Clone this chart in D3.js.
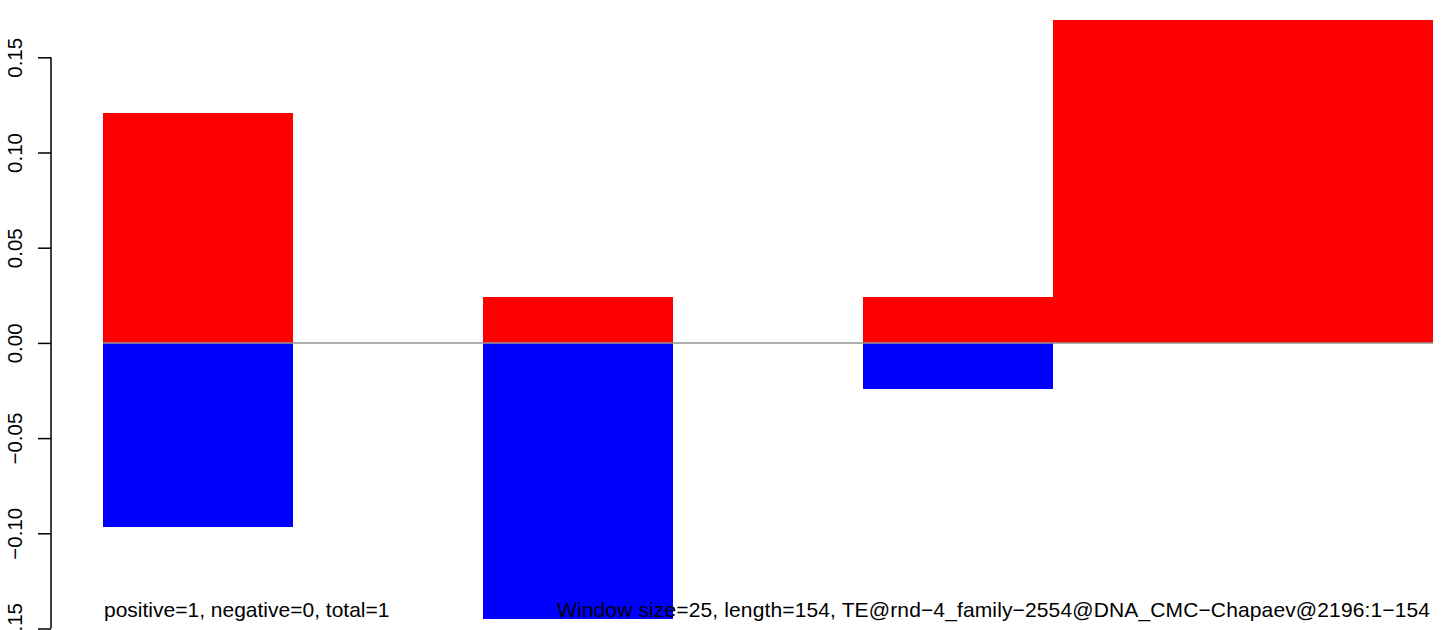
<!DOCTYPE html>
<html><head><meta charset="utf-8">
<script src="https://cdn.jsdelivr.net/npm/d3@7"></script>
<style>body{margin:0;background:#fff}svg{display:block}</style>
</head><body>
<script>
const windowStarts = [0, 25, 50, 75, 100, 125, 150];
const windowSize = 25;
const positiveVals = [0.121, 0, 0.0243, 0, 0.0243, 0.1695, 0.1695];
const negativeVals = [-0.0965, 0, -0.145, 0, -0.0242, 0, 0];
const yTicks = [-0.15, -0.10, -0.05, 0.00, 0.05, 0.10, 0.15];
const leftLabel = "positive=1, negative=0, total=1";
const rightLabel = "Window size=25, length=154, TE@rnd\u22124_family\u22122554@DNA_CMC\u2212Chapaev@2196:1\u2212154";

const W = 1444, H = 630;
const svg = d3.select("body").append("svg").attr("width", W).attr("height", H);
const x = d3.scaleLinear().domain([0, 175]).range([103, 1433]);
const y = d3.scaleLinear().domain([-0.15, 0.15]).range([628.5, 57.3]);
const font = "Liberation Sans, Arial, sans-serif";

const data = windowStarts.map((s, i) => ({s, p: positiveVals[i], n: negativeVals[i]}));

svg.append("g").selectAll("rect.pos").data(data.filter(d => d.p !== 0)).join("rect")
  .attr("x", d => x(d.s)).attr("width", d => x(d.s + windowSize) - x(d.s))
  .attr("y", d => y(d.p)).attr("height", d => y(0) - y(d.p))
  .attr("fill", "#ff0000").attr("shape-rendering", "crispEdges");
svg.append("g").selectAll("rect.neg").data(data.filter(d => d.n !== 0)).join("rect")
  .attr("x", d => x(d.s)).attr("width", d => x(d.s + windowSize) - x(d.s))
  .attr("y", y(0)).attr("height", d => y(d.n) - y(0))
  .attr("fill", "#0000ff").attr("shape-rendering", "crispEdges");

svg.append("line").attr("x1", x(0)).attr("x2", x(175)).attr("y1", y(0)).attr("y2", y(0))
  .attr("stroke", "#939393").attr("stroke-width", 1.5);

const axis = d3.axisLeft(y).tickValues(yTicks).tickSize(13).tickPadding(0)
  .tickFormat(d3.format(".2f"));
const g = svg.append("g").attr("transform", "translate(51,0)").call(axis);
g.select(".domain").attr("stroke", "#000").attr("stroke-width", 1.5)
  .attr("d", `M0,${y(-0.15)}V${y(0.15)}`);
g.selectAll(".tick line").attr("stroke", "#000").attr("stroke-width", 1.5);
g.selectAll(".tick text").attr("font-family", font).attr("font-size", 20.5).attr("fill", "#000")
  .attr("text-anchor", "middle").attr("dy", 0)
  .attr("transform", "translate(-29,0) rotate(-90)").attr("x", 0).attr("y", 0);

svg.append("text").attr("x", 104).attr("y", 617).attr("font-family", font).attr("font-size", 21)
  .attr("fill", "#000").text(leftLabel);
svg.append("text").attr("x", 557).attr("y", 617).attr("font-family", font).attr("font-size", 21)
  .attr("fill", "#000").attr("textLength", 873).attr("lengthAdjust", "spacing").text(rightLabel);
</script>
</body></html>
